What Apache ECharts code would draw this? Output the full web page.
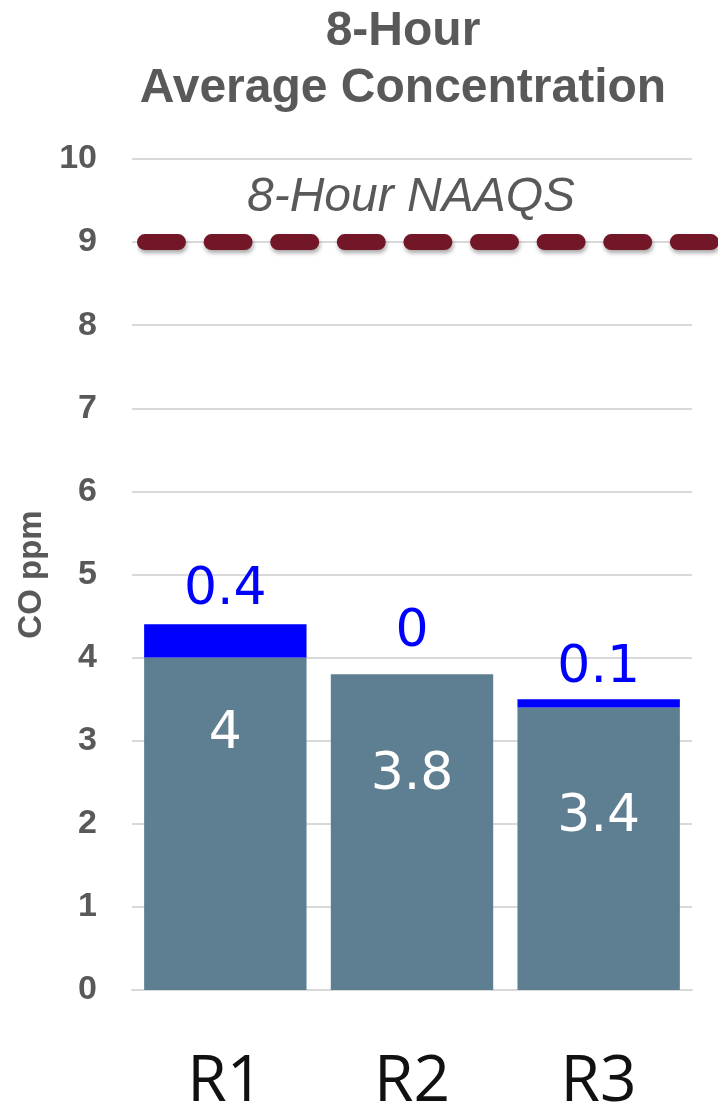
<!DOCTYPE html>
<html>
<head>
<meta charset="utf-8">
<script src="https://cdn.jsdelivr.net/npm/echarts@6/dist/echarts.min.js"></script>
<style>html,body{margin:0;padding:0;background:#fff}#c{width:718px;height:1112px}</style>
</head>
<body>
<div id="c"></div>
<script>
const categories = ['R1', 'R2', 'R3'];
const baseValues = [4, 3.8, 3.4];
const addedValues = [0.4, 0, 0.1];
const naaqsValue = 9;
const naaqsLabel = '8-Hour NAAQS';
const yTicks = [0, 1, 2, 3, 4, 5, 6, 7, 8, 9, 10];

const baseLabelFrac = ['23%', '32%', '39%'];
const topLabelDist = [8, 16, 5];

const chart = echarts.init(document.getElementById('c'), null, {renderer: 'canvas'});
const option = {
  animation: false,
  backgroundColor: '#fff',
  title: [
    {
      text: '8-Hour\nAverage Concentration',
      left: 398, top: -2, textAlign: 'center',
      textStyle: {fontFamily: 'Liberation Sans, Arial', fontWeight: 'bold', fontSize: 48, lineHeight: 57, color: '#595959'}
    },
    {
      text: naaqsLabel,
      left: 406, top: 169, textAlign: 'center',
      textStyle: {fontFamily: 'Liberation Sans, Arial', fontStyle: 'italic', fontWeight: 'normal', fontSize: 48, lineHeight: 48, color: '#595959'}
    }
  ],
  grid: [
    {left: 132, right: 26, top: 159, bottom: 122, outerBoundsMode: 'none', containLabel: false},
    {left: 145, right: 0, top: 159, bottom: 122, outerBoundsMode: 'none', containLabel: false}
  ],
  xAxis: [
    {
      type: 'category', data: categories, gridIndex: 0,
      axisLine: {lineStyle: {color: '#d9d9d9', width: 2}},
      axisTick: {show: false},
      axisLabel: {margin: 61, fontFamily: 'Open Sans', fontSize: 64, color: '#111', fontWeight: 'normal'}
    },
    {type: 'value', gridIndex: 1, min: 0, max: 1, show: false}
  ],
  yAxis: [
    {
      type: 'value', gridIndex: 0, min: yTicks[0], max: yTicks[yTicks.length - 1], interval: 1,
      name: 'CO ppm', nameLocation: 'middle', nameGap: 83, nameRotate: 90,
      nameTextStyle: {fontFamily: 'Liberation Sans', fontWeight: 'bold', fontSize: 33, color: '#595959'},
      axisLine: {show: false}, axisTick: {show: false},
      axisLabel: {margin: 35, fontFamily: 'Liberation Sans, Arial', fontWeight: 'bold', fontSize: 34, color: '#595959'},
      splitLine: {lineStyle: {color: '#d9d9d9', width: 2}}
    },
    {type: 'value', gridIndex: 1, min: 0, max: 10, show: false}
  ],
  series: [
    {
      type: 'bar', stack: 'co', xAxisIndex: 0, yAxisIndex: 0,
      barCategoryGap: '13%',
      itemStyle: {color: '#5d7f91'},
      data: baseValues.map((v, i) => ({
        value: v,
        label: {position: ['50%', baseLabelFrac[i]]}
      })),
      label: {
        show: true, align: 'center', verticalAlign: 'middle',
        fontFamily: 'DejaVu Sans', fontWeight: 'normal', fontSize: 52, color: '#fff'
      }
    },
    {
      type: 'bar', stack: 'co', xAxisIndex: 0, yAxisIndex: 0,
      itemStyle: {color: '#0000ff'},
      data: addedValues.map((v, i) => ({
        value: v,
        label: {distance: topLabelDist[i]}
      })),
      label: {
        show: true, position: 'top',
        fontFamily: 'DejaVu Sans', fontWeight: 'normal', fontSize: 52, color: '#0000ff'
      }
    },
    {
      type: 'line', xAxisIndex: 1, yAxisIndex: 1, z: 5,
      symbol: 'none', silent: true,
      data: [[0, naaqsValue], [1, naaqsValue]],
      lineStyle: {
        color: '#731628', width: 16, type: [33, 33.6], cap: 'round',
        shadowColor: 'rgba(0,0,0,0.35)', shadowBlur: 4, shadowOffsetX: 1, shadowOffsetY: 3
      }
    }
  ]
};
chart.setOption(option);
</script>
</body>
</html>
